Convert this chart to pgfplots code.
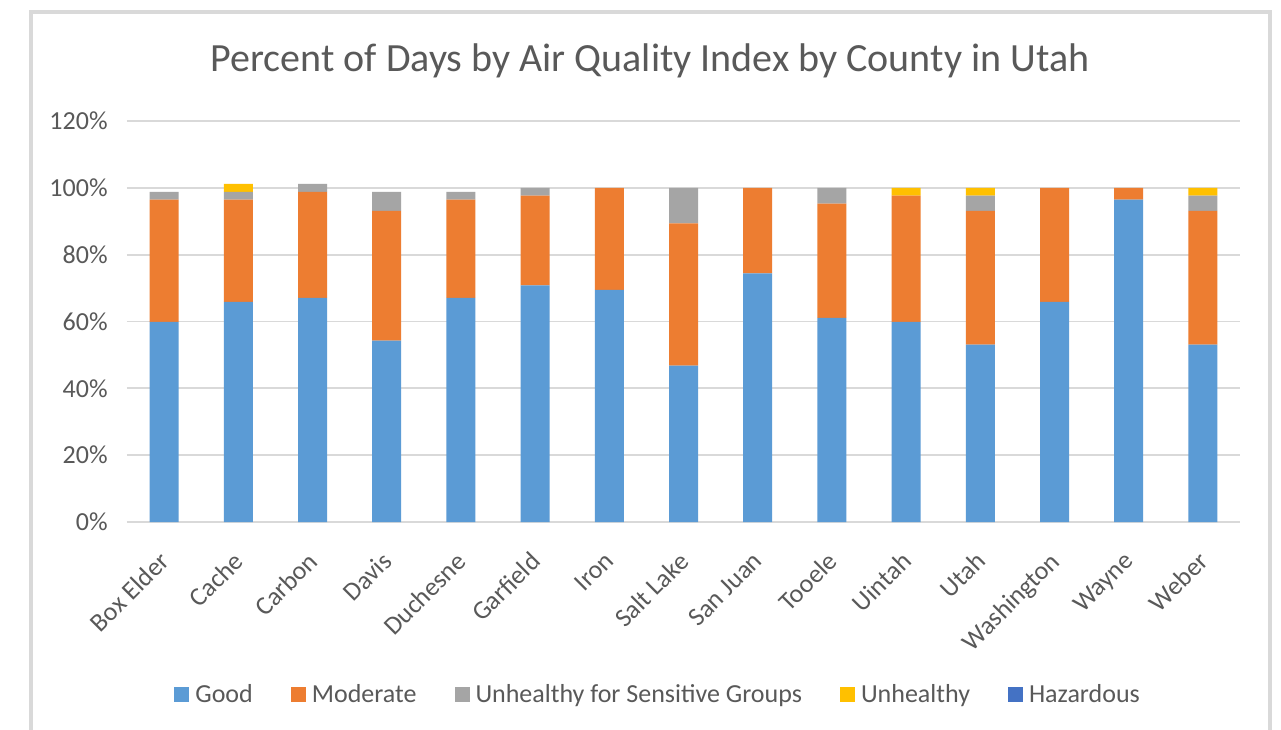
\documentclass[border=0pt]{standalone}
\usepackage{pgfplots}
\pgfplotsset{compat=1.18}
\usepackage{pgfplotstable}
\usepackage{fontspec}
\setmainfont{Carlito}
\definecolor{cgood}{HTML}{5B9BD5}
\definecolor{cmod}{HTML}{ED7D31}
\definecolor{cusg}{HTML}{A5A5A5}
\definecolor{cunh}{HTML}{FFC000}
\definecolor{chaz}{HTML}{4472C4}
\definecolor{txt}{HTML}{595959}
\definecolor{gridc}{HTML}{D9D9D9}
\pgfplotstableread{
x good mod usg unh haz
0 59.9 36.6 2.3 0 0
1 65.9 30.6 2.3 2.4 0
2 67.1 31.7 2.4 0 0
3 54.3 38.8 5.7 0 0
4 67.1 29.4 2.3 0 0
5 70.8 26.9 2.3 0 0
6 69.5 30.5 0 0 0
7 46.8 42.6 10.6 0 0
8 74.4 25.6 0 0 0
9 61.1 34.2 4.7 0 0
10 59.9 37.8 0 2.3 0
11 53.1 40.0 4.6 2.3 0
12 65.9 34.1 0 0 0
13 96.5 3.5 0 0 0
14 53.1 40.0 4.6 2.3 0
}\datatable
\begin{document}
\begin{tikzpicture}
\useasboundingbox (0,0) rectangle (640.5pt,364.5pt);
\fill[white] (0,0) rectangle (640.5pt,364.5pt);
\draw[gridc, line width=1.8pt] (15.5pt,-2pt) -- (15.5pt,358.5pt) -- (635pt,358.5pt) -- (635pt,-2pt);
\node[text=txt, font=\fontsize{20}{24}\selectfont] at (325pt,334pt) {Percent of Days by Air Quality Index by County in Utah};
\begin{axis}[
  at={(63.5pt,103.5pt)}, anchor=south west,
  scale only axis, width=556.5pt, height=200.5pt,
  ybar stacked, bar width=14.5pt,
  xmin=-0.5, xmax=14.5, ymin=0, ymax=120,
  ytick={0,20,...,120},
  xtick={0,...,14},
  xticklabels={Box Elder,Cache,Carbon,Davis,Duchesne,Garfield,Iron,Salt Lake,San Juan,Tooele,Uintah,Utah,Washington,Wayne,Weber},
  axis line style={draw=none},
  major tick length=0pt,
  xmajorgrids=false, ymajorgrids=true,
  major grid style={draw=gridc, line width=0.9pt},
  yticklabel={\pgfmathprintnumber{\tick}\%},
  /pgf/number format/assume math mode=true,
  tick label style={text=txt, font=\fontsize{13}{15}\selectfont},
  yticklabel style={anchor=east, inner sep=0pt, xshift=-9.5pt},
  xticklabel style={yshift=-14pt, xshift=-3pt, rotate=45, anchor=north east, inner sep=0pt},
  legend columns=-1,
  legend style={at={(0.0422,-0.4314)}, anchor=west, draw=none, fill=none, inner sep=0pt,
    font=\fontsize{13}{15}\selectfont, text=txt,
    /tikz/every odd column/.append style={column sep=1pt},
    /tikz/every even column/.append style={column sep=17pt}},
  legend image code/.code={\fill[#1] (0pt,-3.5pt) rectangle (7.5pt,4pt);},
  every axis plot/.append style={draw=none},
]
\addplot[fill=cgood] table[x=x,y=good]{\datatable};
\addplot[fill=cmod] table[x=x,y=mod]{\datatable};
\addplot[fill=cusg] table[x=x,y=usg]{\datatable};
\addplot[fill=cunh] table[x=x,y=unh]{\datatable};
\addplot[fill=chaz] table[x=x,y=haz]{\datatable};
\legend{Good,Moderate,Unhealthy for Sensitive Groups,Unhealthy,Hazardous}
\end{axis}
\end{tikzpicture}
\end{document}
